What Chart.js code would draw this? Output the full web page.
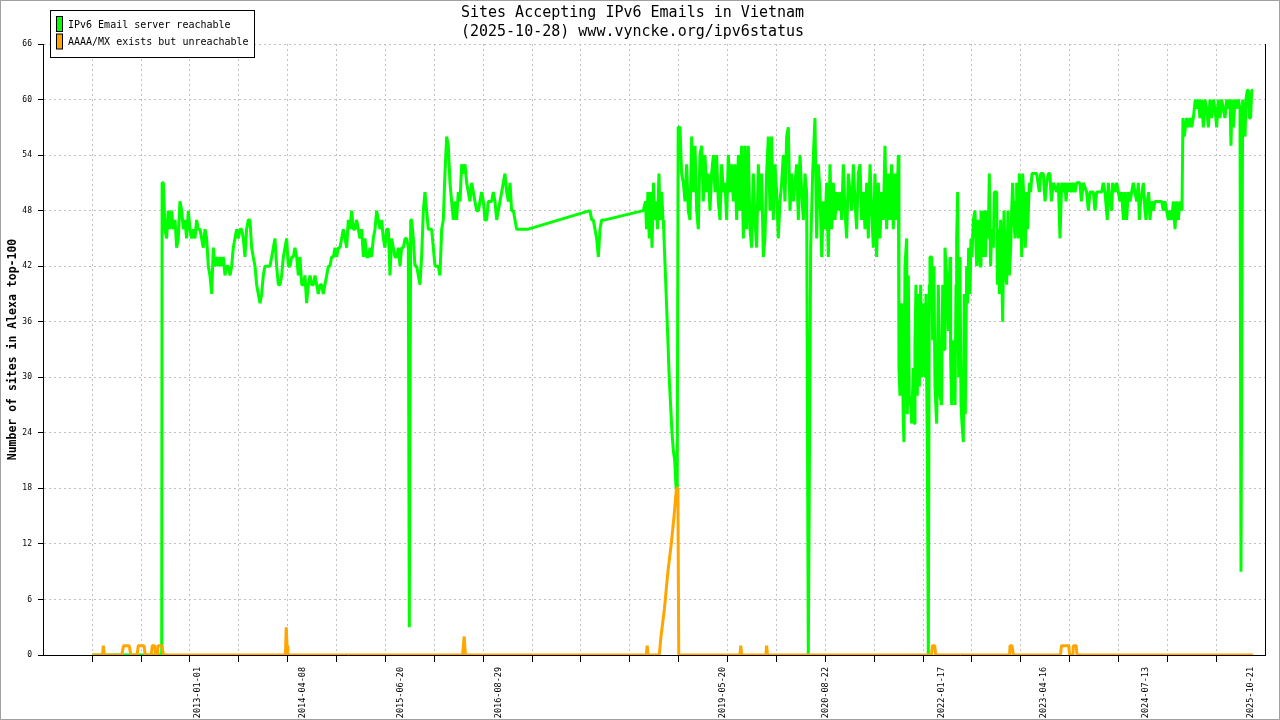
<!DOCTYPE html>
<html>
<head>
<meta charset="utf-8">
<script src="https://cdn.jsdelivr.net/npm/chart.js@4.4.1/dist/chart.umd.min.js"></script>
<style>
html,body{margin:0;padding:0;background:#fff;}
#wrap{position:relative;width:1280px;height:720px;}
</style>
</head>
<body>
<div id="wrap"><canvas id="c" width="1280" height="720"></canvas></div>
<script>
// ---- data (x values are decimal years) ----
const titleLines = ['Sites Accepting IPv6 Emails in Vietnam', '(2025-10-28) www.vyncke.org/ipv6status'];
const yAxisTitle = 'Number of sites in Alexa top-100';
const seriesNames = ['IPv6 Email server reachable', 'AAAA/MX exists but unreachable'];
const seriesColors = ['#00ff00', '#ffa500'];
const dateLabels = ['2013-01-01','2014-04-08','2015-06-20','2016-08-29','2019-05-20','2020-08-22','2022-01-17','2023-04-16','2024-07-13','2025-10-21'];
const yTickValues = [0,6,12,18,24,30,36,42,48,54,60,66];

const greenDates = [
2011.710,2012.555,2012.560,2012.575,2012.595,2012.615,2012.635,2012.656,2012.676,2012.696,
2012.717,2012.737,2012.757,2012.777,2012.798,2012.818,2012.838,2012.858,2012.879,2012.899,
2012.919,2012.940,2012.960,2012.980,2013.000,2013.021,2013.041,2013.061,2013.082,2013.102,
2013.122,2013.142,2013.163,2013.183,2013.203,2013.223,2013.244,2013.264,2013.284,2013.305,
2013.325,2013.345,2013.365,2013.386,2013.406,2013.426,2013.446,2013.467,2013.487,2013.507,
2013.528,2013.548,2013.568,2013.588,2013.609,2013.629,2013.649,2013.669,2013.690,2013.710,
2013.730,2013.751,2013.771,2013.791,2013.811,2013.832,2013.852,2013.872,2013.893,2013.913,
2013.933,2013.953,2013.974,2013.994,2014.014,2014.035,2014.055,2014.075,2014.095,2014.116,
2014.136,2014.156,2014.176,2014.197,2014.217,2014.237,2014.258,2014.278,2014.298,2014.318,
2014.339,2014.359,2014.379,2014.400,2014.420,2014.440,2014.460,2014.481,2014.501,2014.521,
2014.541,2014.562,2014.582,2014.602,2014.622,2014.643,2014.663,2014.683,2014.704,2014.724,
2014.744,2014.764,2014.785,2014.805,2014.825,2014.846,2014.866,2014.886,2014.906,2014.927,
2014.947,2014.967,2014.988,2015.008,2015.028,2015.048,2015.069,2015.089,2015.109,2015.129,
2015.150,2015.170,2015.190,2015.211,2015.231,2015.251,2015.271,2015.292,2015.312,2015.332,
2015.352,2015.373,2015.393,2015.413,2015.434,2015.454,2015.474,2015.494,2015.515,2015.535,
2015.555,2015.567,2015.584,2015.596,2015.616,2015.636,2015.657,2015.677,2015.697,2015.717,
2015.738,2015.758,2015.778,2015.798,2015.819,2015.839,2015.859,2015.880,2015.900,2015.920,
2015.940,2015.961,2015.981,2016.001,2016.022,2016.042,2016.062,2016.082,2016.103,2016.123,
2016.143,2016.163,2016.184,2016.204,2016.224,2016.245,2016.265,2016.285,2016.305,2016.326,
2016.346,2016.366,2016.387,2016.407,2016.427,2016.447,2016.468,2016.488,2016.508,2016.528,
2016.549,2016.569,2016.589,2016.610,2016.630,2016.650,2016.670,2016.691,2016.711,2016.731,
2016.752,2016.772,2016.792,2016.812,2016.833,2016.853,2016.873,2016.914,2017.015,2017.765,
2017.786,2017.806,2017.826,2017.846,2017.867,2017.887,2017.907,2017.948,2018.414,2018.440,
2018.453,2018.470,2018.486,2018.503,2018.520,2018.537,2018.553,2018.570,2018.587,2018.604,
2018.620,2018.637,2018.654,2018.662,2018.679,2018.696,2018.713,2018.729,2018.746,2018.763,
2018.780,2018.796,2018.813,2018.826,2018.838,2018.860,2018.880,2018.901,2018.921,
2018.941,2018.961,2018.982,2019.002,2019.022,2019.043,2019.063,2019.083,2019.103,2019.124,
2019.144,2019.164,2019.185,2019.205,2019.225,2019.245,2019.266,2019.286,2019.306,2019.326,
2019.347,2019.367,2019.387,2019.408,2019.428,2019.448,2019.468,2019.489,2019.509,2019.529,
2019.550,2019.570,2019.590,2019.610,2019.631,2019.651,2019.671,2019.691,2019.712,2019.732,
2019.752,2019.772,2019.793,2019.813,2019.833,2019.854,2019.874,2019.894,2019.914,2019.935,
2019.955,2019.975,2019.995,2020.016,2020.036,2020.056,2020.077,2020.097,2020.117,2020.137,
2020.158,2020.178,2020.198,2020.219,2020.239,2020.259,2020.279,2020.300,2020.320,2020.340,
2020.361,2020.381,2020.401,2020.421,2020.450,2020.474,2020.502,2020.523,2020.543,2020.563,
2020.584,2020.604,2020.624,2020.644,2020.665,2020.685,2020.705,2020.726,2020.746,2020.766,
2020.786,2020.807,2020.827,2020.847,2020.867,2020.888,2020.908,2020.928,2020.949,2020.969,
2020.989,2021.009,2021.030,2021.050,2021.070,2021.090,2021.111,2021.131,2021.151,2021.172,
2021.192,2021.212,2021.232,2021.253,2021.273,2021.293,2021.314,2021.334,2021.354,2021.374,
2021.395,2021.415,2021.435,2021.455,2021.476,2021.496,2021.516,2021.524,2021.536,2021.557,
2021.577,2021.585,2021.597,2021.618,2021.626,2021.638,2021.650,2021.666,2021.678,2021.699,
2021.711,2021.719,2021.731,2021.747,2021.760,2021.772,2021.788,2021.800,2021.820,2021.841,
2021.853,2021.869,2021.881,2021.893,2021.901,2021.922,2021.934,2021.950,2021.962,2021.983,
2022.003,2022.023,2022.043,2022.056,2022.072,2022.084,2022.104,2022.125,2022.145,2022.153,
2022.165,2022.185,2022.206,2022.218,2022.226,2022.238,2022.250,2022.266,2022.279,2022.291,
2022.307,2022.319,2022.331,2022.348,2022.360,2022.372,2022.388,2022.400,2022.412,2022.429,
2022.449,2022.469,2022.490,2022.510,2022.522,2022.542,2022.558,2022.575,2022.591,2022.611,
2022.623,2022.639,2022.652,2022.672,2022.684,2022.713,2022.721,2022.733,2022.745,2022.761,
2022.773,2022.786,2022.802,2022.818,2022.834,2022.850,2022.867,2022.883,2022.895,2022.907,
2022.923,2022.936,2022.948,2022.956,2022.976,2022.988,2023.004,2023.017,2023.029,2023.045,
2023.061,2023.078,2023.090,2023.110,2023.126,2023.142,2023.159,2023.199,2023.232,2023.248,
2023.280,2023.301,2023.321,2023.341,2023.361,2023.378,2023.402,2023.442,2023.463,2023.483,
2023.503,2023.524,2023.544,2023.556,2023.572,2023.589,2023.605,2023.625,2023.645,2023.666,
2023.686,2023.726,2023.743,2023.767,2023.807,2023.828,2023.848,2023.889,2023.909,2023.929,
2023.970,2023.990,2024.010,2024.030,2024.059,2024.071,2024.091,2024.112,2024.124,2024.152,
2024.172,2024.193,2024.213,2024.233,2024.254,2024.274,2024.294,2024.314,2024.335,2024.355,
2024.375,2024.395,2024.416,2024.436,2024.448,2024.464,2024.481,2024.497,2024.517,2024.529,
2024.545,2024.562,2024.578,2024.598,2024.618,2024.639,2024.659,2024.700,2024.720,2024.740,
2024.760,2024.781,2024.801,2024.821,2024.842,2024.862,2024.882,2024.902,2024.923,2024.943,
2024.967,2024.979,2024.996,2025.008,2025.024,2025.044,2025.065,2025.085,2025.105,2025.117,
2025.129,2025.146,2025.166,2025.186,2025.206,2025.227,2025.247,2025.267,2025.288,2025.308,
2025.328,2025.348,2025.369,2025.389,2025.409,2025.429,2025.450,2025.470,2025.490,2025.511,
2025.531,2025.551,2025.563,2025.576,2025.592,2025.612,2025.632,2025.652,2025.673,2025.685,
2025.705,2025.721,2025.734,2025.746,2025.762,2025.774,2025.786,2025.802,2025.815,2025.830
];
const greenValues = [
0,0,51,51,46,45,48,46,48,46,
47,44,45,49,48,46,47,45,48,46,
45,46,45,47,46,46,45,44,46,45,
42,41,39,44,42,43,42,43,42,43,
41,42,42,41,42,44,45,46,45,46,
46,45,43,46,47,47,44,43,42,40,
39,38,39,41,42,42,42,42,43,44,
45,42,40,40,41,43,44,45,42,42,
43,43,44,43,41,43,40,40,41,38,
40,41,40,40,41,40,39,40,40,39,
40,41,42,42,43,43,44,43,44,44,
45,46,45,44,47,46,48,46,46,47,
46,45,46,43,45,43,43,44,43,45,
46,48,47,46,47,45,44,46,46,41,
45,44,43,43,44,42,44,44,45,45,
44,3,47,47,45,42,42,41,40,43,
48,50,48,46,46,46,44,42,42,42,
41,46,47,52,56,55,51,49,47,49,
47,50,49,53,52,53,51,50,49,51,
50,49,48,48,49,50,49,47,47,49,
49,49,50,49,47,48,49,50,51,52,
50,49,51,48,48,47,46,46,46,48,
47,47,46,45,43,46,47,47,48,49,
46,50,45,50,44,51,47,49,46,52,
47,50,47,46,42,38,34,30,27,24,
22,21,18,18,57,57,52,51,49,
53,48,47,56,50,55,48,46,54,55,
49,54,50,52,48,52,54,50,54,49,
47,53,50,51,47,54,50,53,49,53,
47,54,48,55,45,55,46,55,46,44,
52,47,44,53,48,52,43,45,52,56,
48,56,47,53,50,45,49,51,54,49,
56,57,48,52,49,51,53,47,54,50,
47,52,50,0,44,52,58,45,53,50,
43,49,46,51,43,53,46,51,47,50,
48,50,47,53,48,45,52,50,48,53,
49,46,52,53,47,50,46,51,45,53,
48,44,52,43,51,45,50,47,55,46,
52,47,53,46,52,47,54,31,28,38,
25,23,42,45,26,41,27,28,25,31,
25,34,40,28,39,29,40,30,38,30,
39,22,0,40,43,43,34,42,29,25,
40,28,27,40,33,44,41,35,43,32,
27,34,27,40,45,50,30,43,27,25,
23,39,26,42,38,44,39,45,43,47,
48,42,47,42,48,43,48,43,48,45,
52,42,46,44,50,50,40,46,39,47,
42,36,48,42,40,48,41,44,48,51,
47,45,49,51,45,52,49,43,52,49,
44,50,46,51,50,52,52,52,50,52,
52,49,51,52,52,49,51,50,51,45,
51,50,51,49,51,50,51,50,51,50,
51,51,49,51,50,48,50,50,48,50,
50,50,51,50,47,51,49,48,51,50,
51,50,49,50,47,50,47,50,49,50,
51,50,49,51,47,49,50,51,48,47,
49,50,47,49,48,49,49,49,49,48,
49,48,47,48,47,49,46,49,47,49,
48,58,56,57,58,57,58,57,58,59,
60,59,60,58,60,57,60,59,57,60,
58,60,59,57,60,58,60,59,58,60,
59,60,55,60,57,60,59,60,59,9,
60,58,56,60,61,61,58,58,61,61
];

const orangeDates = [
2011.710,2011.835,2011.845,2011.857,
2012.070,2012.090,2012.160,2012.180,
2012.255,2012.270,2012.340,2012.355,
2012.428,2012.440,2012.470,2012.480,
2012.500,2012.510,2012.560,2012.575,
2014.060,2014.070,2014.080,2014.090,
2016.215,2016.225,2016.235,2016.250,
2018.450,2018.461,2018.472,
2018.608,2018.629,2018.671,2018.713,2018.754,2018.788,2018.817,2018.835,2018.845,
2019.590,2019.600,2019.610,
2019.905,2019.915,2019.925,
2021.920,2021.930,2021.960,2021.970,
2022.870,2022.875,2022.900,2022.915,
2023.490,2023.500,2023.590,2023.600,
2023.640,2023.645,2023.680,2023.690,
2025.830
];
const orangeValues = [
0,0,1,0,
0,1,1,0,
0,1,1,0,
0,1,1,0,
0,1,1,0,
0,3,1,0,
0,1,2,0,
0,1,0,
0,2,5,9,12,15,18,18,0,
0,1,0,
0,1,0,
0,1,1,0,
0,1,1,0,
0,1,1,0,
0,1,1,0,
0
];

// ---- helpers ----
function toYear(s){
  const p = s.split('-').map(Number);
  const a = Date.UTC(p[0],0,1), b = Date.UTC(p[0]+1,0,1);
  return p[0] + (Date.UTC(p[0],p[1]-1,p[2]) - a) / (b - a);
}
const X_MIN = 2011.111, X_MAX = 2025.977;
const GRID_START = 2011.71, GRID_STEP = 0.5945;
const gridTicks = [];
for (let v = GRID_START; v < X_MAX - 0.01; v += GRID_STEP) gridTicks.push(v);
const labelTicks = dateLabels.map(toYear);

const MONO = '"DejaVu Sans Mono", "Liberation Mono", monospace';
Chart.defaults.font.family = MONO;
Chart.defaults.color = '#000';

const legendPlugin = {
  id: 'boxLegend',
  afterDraw(chart) {
    const ctx = chart.ctx;
    ctx.save();
    ctx.fillStyle = '#fff';
    ctx.fillRect(50.5, 10.5, 204, 47);
    ctx.strokeStyle = '#000';
    ctx.lineWidth = 1;
    ctx.strokeRect(50.5, 10.5, 204, 47);
    seriesNames.forEach((name, i) => {
      const y = 16.5 + i * 17.5;
      ctx.fillStyle = seriesColors[i];
      ctx.fillRect(56.5, y, 6, 15);
      ctx.strokeRect(56.5, y, 6, 15);
      ctx.fillStyle = '#000';
      ctx.font = '10px ' + MONO;
      ctx.textBaseline = 'middle';
      ctx.textAlign = 'left';
      ctx.fillText(name, 68, y + 8.5);
    });
    // outer frame
    ctx.strokeStyle = '#a0a0a0';
    ctx.strokeRect(0.5, 0.5, 1279, 719);
    ctx.restore();
  }
};

new Chart(document.getElementById('c'), {
  type: 'line',
  data: {
    datasets: [
      {
        label: seriesNames[0],
        data: greenDates.map((d, i) => ({x: d, y: greenValues[i]})),
        borderColor: seriesColors[0],
        backgroundColor: seriesColors[0],
        borderWidth: 3,
        pointRadius: 0,
        tension: 0,
        borderJoinStyle: 'bevel',
        order: 2
      },
      {
        label: seriesNames[1],
        data: orangeDates.map((d, i) => ({x: d, y: orangeValues[i]})),
        borderColor: seriesColors[1],
        backgroundColor: seriesColors[1],
        borderWidth: 3,
        pointRadius: 0,
        tension: 0,
        borderJoinStyle: 'bevel',
        order: 1
      }
    ]
  },
  options: {
    responsive: false,
    animation: false,
    devicePixelRatio: 1,
    layout: {padding: {top: 0, right: 15, bottom: 0, left: 0}},
    plugins: {
      legend: {display: false},
      tooltip: {enabled: false},
      title: {
        display: true,
        text: titleLines,
        color: '#000',
        font: {family: MONO, size: 15, weight: 'normal', lineHeight: 1.3},
        padding: {top: 3, bottom: 2}
      }
    },
    scales: {
      x: {
        type: 'linear',
        position: 'bottom',
        min: X_MIN, max: X_MAX,
        afterBuildTicks: s => { s.ticks = gridTicks.map(v => ({value: v})); },
        afterFit: s => { s.height = 0; },
        ticks: {display: false, autoSkip: false},
        grid: {color: '#c0c0c0', lineWidth: 1, tickColor: '#000', tickLength: 7, drawTicks: true},
        border: {display: true, color: '#000', width: 1, dash: [2, 3]}
      },
      xl: {
        type: 'linear',
        position: 'bottom',
        min: X_MIN, max: X_MAX,
        afterBuildTicks: s => { s.ticks = labelTicks.map(v => ({value: v})); },
        afterFit: s => { s.height = 65; },
        ticks: {
          autoSkip: false, minRotation: 90, maxRotation: 90, padding: 4,
          font: {family: MONO, size: 8.5},
          color: '#000',
          callback: (v, i) => dateLabels[i]
        },
        grid: {display: false},
        border: {display: false}
      },
      y: {
        type: 'linear',
        position: 'left',
        min: 0, max: 66,
        afterBuildTicks: s => { s.ticks = yTickValues.map(v => ({value: v})); },
        afterFit: s => { s.width = 43; },
        ticks: {font: {family: MONO, size: 8}, color: '#000', padding: 6, autoSkip: false},
        grid: {color: '#c0c0c0', lineWidth: 1, tickColor: '#000', tickLength: 5},
        border: {display: true, color: '#000', width: 1, dash: [2, 3]},
        title: {
          display: true, text: yAxisTitle, color: '#000',
          font: {family: MONO, size: 11.5, weight: 'bold'},
          padding: {top: 6, bottom: 0}
        }
      },
      yr: {
        type: 'linear',
        position: 'right',
        min: 0, max: 66,
        afterFit: s => { s.width = 0; },
        ticks: {display: false},
        grid: {drawOnChartArea: false, drawTicks: false},
        border: {display: true, color: '#000', width: 1}
      }
    }
  },
  plugins: [legendPlugin]
});
</script>
</body>
</html>
